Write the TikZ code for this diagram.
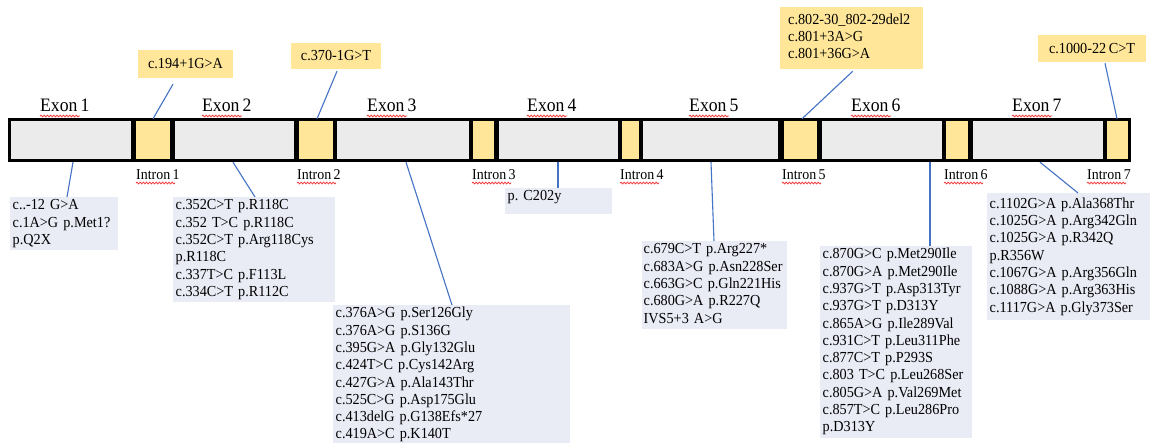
\documentclass[tikz,border=0pt]{standalone}
\usepackage{fontspec}
\setmainfont{Liberation Serif}[FakeStretch=0.93, WordSpace=0.7]
\usetikzlibrary{calc,decorations.pathmorphing}

\definecolor{exongray}{HTML}{EBEBEB}
\definecolor{intronyellow}{HTML}{FFE699}
\definecolor{mutbox}{HTML}{E9EBF5}
\definecolor{leadblue}{HTML}{4472C4}
\definecolor{squigred}{HTML}{F03C3C}

\newcommand{\mutfont}{\fontsize{15.3}{17.3}\selectfont\frenchspacing\exhyphenpenalty=10000 }
\newcommand{\tagfont}{\fontsize{15.3}{17.3}\selectfont\frenchspacing\exhyphenpenalty=10000 }

\tikzset{
  seg/.style={inner sep=0pt, minimum height=38pt},
  exonlab/.style={anchor=base west, inner sep=0pt, font=\fontsize{19}{21}\selectfont},
  intronlab/.style={anchor=base west, inner sep=0pt, font=\fontsize{15}{17}\selectfont},
  toplab/.style={fill=intronyellow, inner sep=0pt, font=\tagfont},
  mut/.style={fill=mutbox, anchor=north west, inner xsep=2.5pt, inner ysep=0.5pt,
    align=left, font=\mutfont, execute at begin node=\strut, execute at end node=\strut},
  leader/.style={draw=leadblue, line width=1.1pt},
  squiggle/.style={draw=squigred, line width=0.8pt, decorate,
    decoration={snake, amplitude=0.9pt, segment length=3.2pt}},
}

\begin{document}
\begin{tikzpicture}[x=1pt, y=-1pt]
\useasboundingbox[fill=white] (0,0) rectangle (1153,442);

% gene bar: black frame with exon and intron panels
\node[fill=black, inner sep=0pt, minimum width=1123pt, minimum height=44pt] (bar) at (569.5,140) {};
\foreach \n/\a/\b/\c in {
  e1/11/131/exongray, i1/136/170/intronyellow,
  e2/175/294/exongray, i2/299/333/intronyellow,
  e3/337/469/exongray, i3/473/494/intronyellow,
  e4/499/618/exongray, i4/622/639/intronyellow,
  e5/643/778/exongray, i5/784/817/intronyellow,
  e6/822/942/exongray, i6/946/968/intronyellow,
  e7/973/1103/exongray, i7/1107/1128/intronyellow}
  \node[seg, fill=\c, minimum width={\b-\a}] (\n) at ({(\a+\b)/2},140) {};

% exon titles
\foreach \k/\x in {1/40, 2/202, 3/367, 4/527, 5/689, 6/851, 7/1012} {
  \node[exonlab] (x\k) at (\x,111) {Exon \k};
  \draw[squiggle] ($(x\k.base west)+(0,5)$) -- ++(40,0);
}

% intron titles
\foreach \k/\x in {1/136, 2/297, 3/472, 4/620, 5/782, 6/944, 7/1087} {
  \node[intronlab] (n\k) at (\x,179) {Intron \k};
  \draw[squiggle] ($(n\k.base west)+(0,4)$) -- ++(39,0);
}

% splice-site variants
\node[toplab, minimum width=95pt, minimum height=28pt] (t1) at (185.5,64) {c.194+1G>A};
\node[toplab, minimum width=90pt, minimum height=26pt] (t2) at (336,56) {c.370-1G>T};
\node[toplab, anchor=north west, inner xsep=8pt, inner ysep=5pt, text width=127pt, align=left,
  execute at begin node=\strut, execute at end node=\strut] (t3) at (780,7)
  {c.802-30\_802-29del2\\c.801+3A>G\\c.801+36G>A};
\node[toplab, minimum width=108pt, minimum height=27pt] (t4) at (1092,48.5) {c.1000-22 C>T};

\draw[leader] ($(t1.south)+(-12.5,6)$) -- ($(i1.north)+(0,-2)$);
\draw[leader] ($(t2.south)+(1,2)$) -- ($(i2.north)+(1,-2)$);
\draw[leader] ($(t3.south)+(1,2)$) -- ($(i5.north)+(1.5,-2)$);
\draw[leader] ($(t4.south)+(13,1)$) -- ($(i7.north)+(-0.5,-2)$);

% exonic variants
\node[mut, text width=103pt] (bA) at (10,197)
  {c..-12 G>A\\c.1A>G p.Met1?\\p.Q2X};
\node[mut, text width=157pt] (bB) at (173,197)
  {c.352C>T p.R118C\\c.352 T>C p.R118C\\c.352C>T p.Arg118Cys\\p.R118C\\c.337T>C p.F113L\\c.334C>T p.R112C};
\node[mut, text width=232pt] (bC) at (333,305)
  {c.376A>G p.Ser126Gly\\c.376A>G p.S136G\\c.395G>A p.Gly132Glu\\c.424T>C p.Cys142Arg\\c.427G>A p.Ala143Thr\\c.525C>G p.Asp175Glu\\c.413delG p.G138Efs*27\\c.419A>C p.K140T};
\node[mut, text width=102pt] (bD) at (505,188)
  {p. C202y\rule[-13pt]{0pt}{0pt}};
\node[mut, text width=142pt, inner xsep=1.5pt] (bE) at (642,241)
  {c.679C>T p.Arg227*\\c.683A>G p.Asn228Ser\\c.663G>C p.Gln221His\\c.680G>A p.R227Q\\IVS5+3 A>G};
\node[mut, text width=147pt] (bF) at (820,246)
  {c.870G>C p.Met290Ile\\c.870G>A p.Met290Ile\\c.937G>T p.Asp313Tyr\\c.937G>T p.D313Y\\c.865A>G p.Ile289Val\\c.931C>T p.Leu311Phe\\c.877C>T p.P293S\\c.803 T>C p.Leu268Ser\\c.805G>A p.Val269Met\\c.857T>C p.Leu286Pro\\p.D313Y};
\node[mut, text width=158pt, inner ysep=3pt] (bG) at (987,193)
  {c.1102G>A p.Ala368Thr\\c.1025G>A p.Arg342Gln\\c.1025G>A p.R342Q\\p.R356W\\c.1067G>A p.Arg356Gln\\c.1088G>A p.Arg363His\\c.1117G>A p.Gly373Ser};

\draw[leader] ($(e1.south)+(2,3)$) -- ($(bA.north west)+(57,0)$);
\draw[leader] ($(e2.south)+(-1.5,3)$) -- ($(bB.north west)+(82,0)$);
\draw[leader] ($(e3.south)+(3,3)$) -- ($(bC.north west)+(119,0)$);
\draw[leader] ($(e4.south)+(-0.5,3)$) -- ($(bD.north west)+(53,0)$);
\draw[leader] ($(e5.south)+(0.5,3)$) -- ($(bE.north west)+(72,0)$);
\draw[leader] ($(e6.south)+(48,3)$) -- ($(bF.north west)+(110,0)$);
\draw[leader] ($(e7.south)+(2,3)$) -- ($(bG.north west)+(91,0)$);
\end{tikzpicture}
\end{document}
